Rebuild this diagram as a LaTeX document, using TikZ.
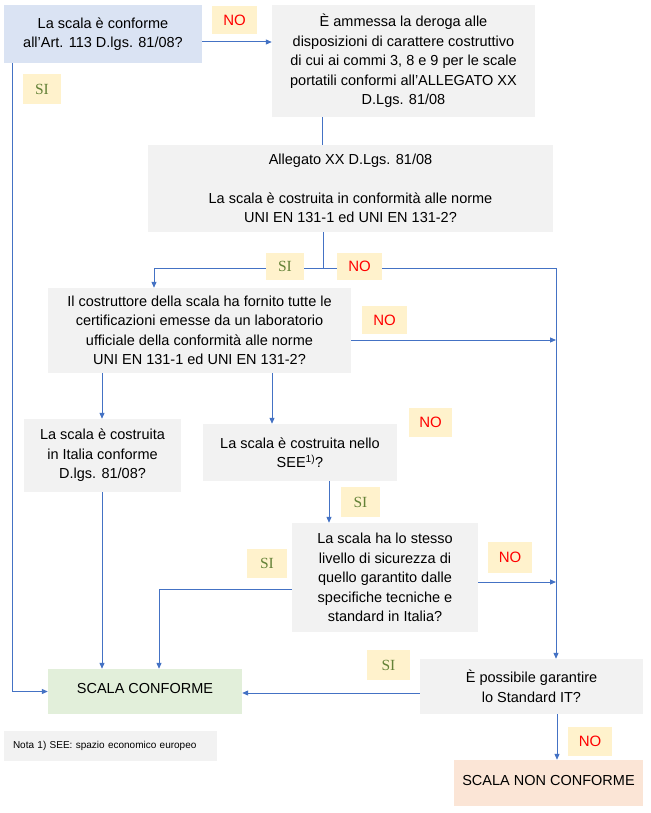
\documentclass[tikz,border=0pt]{standalone}
\usepackage{fontspec}
\setmainfont{Liberation Sans}
\newfontfamily\serifsi{Liberation Serif}
\usetikzlibrary{arrows.meta}
\definecolor{lineblue}{HTML}{4472C4}
\definecolor{boxgray}{HTML}{F2F2F2}
\definecolor{boxblue}{HTML}{DAE3F3}
\definecolor{boxgreen}{HTML}{E2EFDA}
\definecolor{boxorange}{HTML}{FBE5D6}
\definecolor{labyellow}{HTML}{FFF2CC}
\definecolor{nored}{HTML}{FF0000}
\definecolor{sigreen}{RGB}{100,130,55}
\tikzset{
  flowbox/.style={fill=boxgray, inner sep=0pt, align=center, font=\fontsize{14.5}{19.5}\selectfont},
  nolab/.style={fill=labyellow, inner sep=0pt, text=nored, font=\fontsize{15}{18}\selectfont},
  silab/.style={fill=labyellow, inner sep=0pt, text=sigreen, font=\fontsize{15.5}{18}\selectfont\serifsi},
  conn/.style={draw=lineblue, line width=1pt},
  arr/.style={conn, -{Triangle[length=6pt,width=5pt]}}
}
\begin{document}
\begin{tikzpicture}[x=1pt,y=-1pt]
\useasboundingbox (0,0) rectangle (650,813);
\fill[white] (0,0) rectangle (650,813);
% boxes
\node[flowbox, fill=boxblue, minimum width=198pt, minimum height=58pt] (b1) at (103,34) {La scala è conforme\\all’Art. 113 D.lgs. 81/08?};
\node[flowbox, minimum width=263pt, minimum height=112pt] (b3) at (403.5,61) {È ammessa la deroga alle\\disposizioni di carattere costruttivo\\di cui ai commi 3, 8 e 9 per le scale\\portatili conformi all’ALLEGATO XX\\D.Lgs. 81/08};
\node[flowbox, minimum width=405pt, minimum height=87pt] (b5) at (350.5,188.5) {Allegato XX D.Lgs. 81/08\\[19.5pt]La scala è costruita in conformità alle norme\\UNI EN 131-1 ed UNI EN 131-2?};
\node[flowbox, minimum width=303pt, minimum height=85pt] (b7) at (199.5,330.5) {Il costruttore della scala ha fornito tutte le\\certificazioni emesse da un laboratorio\\ufficiale della conformità alle norme\\UNI EN 131-1 ed UNI EN 131-2?};
\node[flowbox, minimum width=157pt, minimum height=73pt] (b9) at (102.5,455.5) {La scala è costruita\\in Italia conforme\\D.lgs. 81/08?};
\node[flowbox, minimum width=194pt, minimum height=57pt] (b10) at (300,452.5) {La scala è costruita nello\\SEE\textsuperscript{1)}?};
\node[flowbox, minimum width=186pt, minimum height=109pt] (b13) at (385,577.5) {La scala ha lo stesso\\livello di sicurezza di\\quello garantito dalle\\specifiche tecniche e\\standard in Italia?};
\node[flowbox, fill=boxgreen, minimum width=194pt, minimum height=45pt, text depth=6pt] (b16) at (145,691.5) {SCALA CONFORME};
\node[flowbox, minimum width=223pt, minimum height=55pt] (b18) at (531.5,686.5) {È possibile garantire\\lo Standard IT?};
\node[flowbox, font=\fontsize{10}{12}\selectfont, minimum width=213pt, minimum height=30pt, text width=195pt, align=left] (note) at (110.5,746) {Nota 1) SEE: spazio economico europeo};
\node[flowbox, fill=boxorange, minimum width=189pt, minimum height=46pt, text depth=6pt] (b21) at (548.5,783) {SCALA NON CONFORME};
% junction coordinates
\coordinate (j) at (323,268);
\coordinate (r1) at (556,340);
\coordinate (r2) at (556,582);
% connectors
\draw[arr] (b1.east |- 0,42) -- (b3.west |- 0,42);
\draw[arr] (b1.south -| 12,0) |- (b16.west);
\draw[conn] (b3.south -| 322,0) -- (b5.north -| 322,0);
\draw[conn] (b5.south -| 323,0) -- (j);
\draw[arr] (j) -| (b7.north -| 154,0);
\draw[arr] (j) -| (b18.north -| 556,0);
\draw[arr] (b7.east |- r1) -- (r1);
\draw[arr] (b7.south -| 102,0) -- (b9.north -| 102,0);
\draw[arr] (b7.south -| 272,0) -- (b10.north -| 272,0);
\draw[arr] (b9.south -| 102,0) -- (b16.north -| 102,0);
\draw[arr] (b10.south -| 329,0) -- (b13.north -| 329,0);
\draw[arr] (b13.west |- 0,589) -| (b16.north -| 159,0);
\draw[arr] (b13.east |- r2) -- (r2);
\draw[arr] (b18.west |- 0,693) -- (b16.east |- 0,693);
\draw[arr] (b18.south -| 557,0) -- (b21.north -| 557,0);
% labels (drawn on top of the connectors)
\node[nolab, minimum width=45pt, minimum height=28pt] (no1) at (234.5,20) {NO};
\node[silab, minimum width=38pt, minimum height=30pt] (si1) at (42,89) {SI};
\node[silab, minimum width=38pt, minimum height=27pt] (si2) at (285,266.5) {SI};
\node[nolab, minimum width=45pt, minimum height=27pt] (no2) at (359.5,266.5) {NO};
\node[nolab, minimum width=45pt, minimum height=28pt] (no3) at (384.5,320) {NO};
\node[nolab, minimum width=43pt, minimum height=29pt] (no4) at (430.5,422.5) {NO};
\node[silab, minimum width=39pt, minimum height=30pt] (si3) at (360.5,502) {SI};
\node[silab, minimum width=40pt, minimum height=29pt] (si4) at (267,563) {SI};
\node[nolab, minimum width=44pt, minimum height=31pt] (no5) at (510,557.5) {NO};
\node[silab, minimum width=43pt, minimum height=30pt] (si5) at (388.5,665) {SI};
\node[nolab, minimum width=44pt, minimum height=29pt] (no6) at (590,741.5) {NO};
\end{tikzpicture}
\end{document}
